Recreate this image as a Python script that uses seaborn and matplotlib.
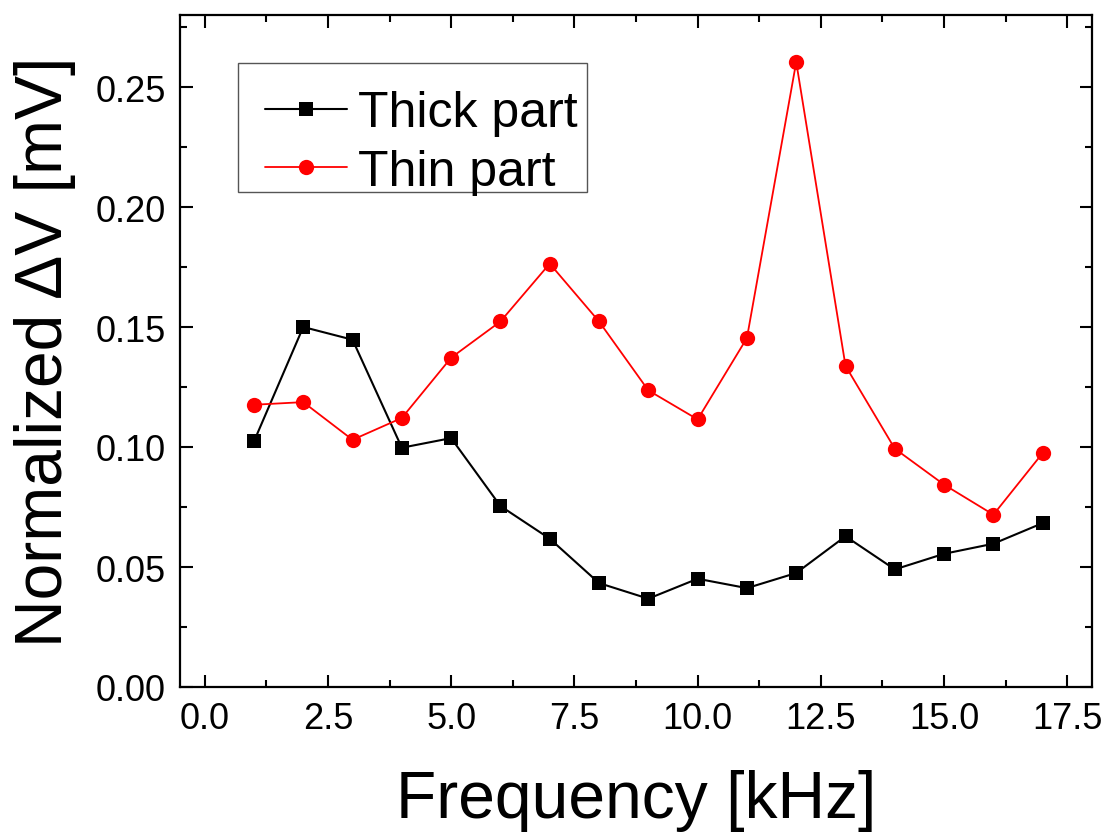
import numpy as np
import pandas as pd
import matplotlib
matplotlib.use("Agg")
import matplotlib.pyplot as plt
from matplotlib.ticker import MultipleLocator
from matplotlib.patches import Rectangle
import seaborn as sns

# Measured response versus excitation frequency
frequency_khz = [1, 2, 3, 4, 5, 6, 7, 8, 9, 10, 11, 12, 13, 14, 15, 16, 17]
thick_part = [0.1023, 0.1500, 0.1447, 0.0997, 0.1037, 0.0754, 0.0618, 0.0433, 0.0368,
              0.0451, 0.0412, 0.0475, 0.0628, 0.0490, 0.0555, 0.0597, 0.0683]
thin_part = [0.1176, 0.1187, 0.1030, 0.1121, 0.1372, 0.1523, 0.1764, 0.1523, 0.1236,
             0.1115, 0.1454, 0.2604, 0.1338, 0.0993, 0.0843, 0.0718, 0.0975]

series_names = ["Thick part", "Thin part"]
x_ticks = [0.0, 2.5, 5.0, 7.5, 10.0, 12.5, 15.0, 17.5]
y_ticks = [0.00, 0.05, 0.10, 0.15, 0.20, 0.25]

sns.set_theme(style="ticks")
plt.rcParams["font.family"] = ["Liberation Sans", "DejaVu Sans"]
plt.rcParams["text.color"] = "black"
plt.rcParams["axes.labelcolor"] = "black"
plt.rcParams["xtick.color"] = "black"
plt.rcParams["ytick.color"] = "black"

W, H = 1108, 837
fig = plt.figure(figsize=(W / 100, H / 100), dpi=100)
ax_l, ax_r, ax_t, ax_b = 180, 1092, 16, 688
ax = fig.add_axes([ax_l / W, 1 - ax_b / H, (ax_r - ax_l) / W, (ax_b - ax_t) / H])

df_thick = pd.DataFrame({"f": frequency_khz, "v": thick_part})
df_thin = pd.DataFrame({"f": frequency_khz, "v": thin_part})

sns.lineplot(data=df_thick, x="f", y="v", ax=ax, color="black", linewidth=1.5,
             marker="s", markersize=10, markeredgewidth=0, label=series_names[0])
sns.lineplot(data=df_thin, x="f", y="v", ax=ax, color="#ff0000", linewidth=1.3,
             marker="o", markersize=11, markeredgewidth=0, label=series_names[1])

ax.set_xlim(-0.5, 18.0)
ax.set_ylim(0, 0.28)
ax.set_xticks(x_ticks)
ax.set_yticks(y_ticks)
ax.set_xticklabels([f"{t:.1f}" for t in x_ticks])
ax.set_yticklabels([f"{t:.2f}" for t in y_ticks])
ax.xaxis.set_minor_locator(MultipleLocator(1.25))
ax.yaxis.set_minor_locator(MultipleLocator(0.025))

for side in ["left", "right", "top", "bottom"]:
    ax.spines[side].set_visible(True)
    ax.spines[side].set_linewidth(1.6)
    ax.spines[side].set_color("black")

ax.tick_params(which="both", direction="in", top=True, right=True,
               width=1.5, colors="black", labelsize=26)
ax.tick_params(which="major", length=9, pad=10)
ax.tick_params(which="minor", length=5)

ax.set_xlabel("Frequency [kHz]", fontsize=47.5, labelpad=24)
ax.set_ylabel("Normalized \u0394V [mV]", fontsize=47.5, labelpad=14)


def px_to_axes(px, py):
    return (px - ax_l) / (ax_r - ax_l), (ax_b - py) / (ax_b - ax_t)


# Legend entries without their own frame; a plain box is drawn around them
leg = ax.legend(loc="upper left", bbox_to_anchor=px_to_axes(265, 91),
                borderaxespad=0, fontsize=36, frameon=False,
                handlelength=1.64, handletextpad=0.22, labelspacing=0.25,
                borderpad=0)
x0, y0 = px_to_axes(238, 193)
x1, y1 = px_to_axes(587, 64)
ax.add_patch(Rectangle((x0, y0), x1 - x0, y1 - y0, transform=ax.transAxes,
                       facecolor="white", edgecolor="#555555", linewidth=1.0,
                       zorder=4))
leg.set_zorder(5)

fig.savefig("out.png", dpi=100)
